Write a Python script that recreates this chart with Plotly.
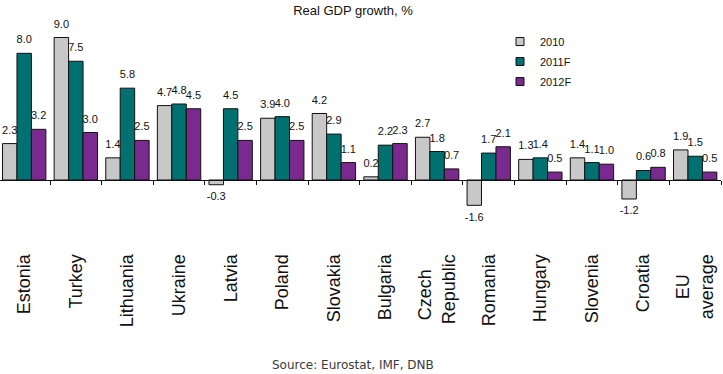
import plotly.graph_objects as go

categories = ["Estonia", "Turkey", "Lithuania", "Ukraine", "Latvia", "Poland", "Slovakia",
              "Bulgaria", "Czech Republic", "Romania", "Hungary", "Slovenia", "Croatia",
              "EU average"]
tick_labels = ["Estonia", "Turkey", "Lithuania", "Ukraine", "Latvia", "Poland", "Slovakia",
               "Bulgaria", "Czech\u00a0\u00a0\u00a0<br>Republic", "Romania", "Hungary", "Slovenia",
               "Croatia", "EU\u00a0\u00a0\u00a0\u00a0<br>average"]
series_names = ["2010", "2011F", "2012F"]
values_2010 = [2.3, 9.0, 1.4, 4.7, -0.3, 3.9, 4.2, 0.2, 2.7, -1.6, 1.3, 1.4, -1.2, 1.9]
values_2011 = [8.0, 7.5, 5.8, 4.8, 4.5, 4.0, 2.9, 2.2, 1.8, 1.7, 1.4, 1.1, 0.6, 1.5]
values_2012 = [3.2, 3.0, 2.5, 4.5, 2.5, 2.5, 1.1, 2.3, 0.7, 2.1, 0.5, 1.0, 0.8, 0.5]
colors = ["#C8C8C8", "#007070", "#7A2A8E"]

W, H = 723, 374
ML, MR, MT, MB = 0, 2, 22, 150
Y_RANGE = [-2.78, 9.98]
BARGAP = 0.16
FONT = "Liberation Sans, Arial, sans-serif"

fig = go.Figure()
all_series = [values_2010, values_2011, values_2012]
for name, vals, col in zip(series_names, all_series, colors):
    fig.add_trace(go.Bar(
        x=categories, y=vals, name=name, marker=dict(color=col, line=dict(color="#111111", width=1)),
        showlegend=False, hoverinfo="skip",
    ))
for name, vals, col in zip(series_names, all_series, colors):
    fig.add_trace(go.Scatter(
        x=categories, y=vals, mode="markers+text",
        text=[f"{v:.1f}" for v in vals],
        textposition=["top center" if v >= 0 else "bottom center" for v in vals],
        textfont=dict(family=FONT, size=11, color="#111111"),
        marker=dict(size=10, color="rgba(0,0,0,0)"),
        showlegend=False, hoverinfo="skip", cliponaxis=False,
    ))
# legend entries
for name, col in zip(series_names, colors):
    fig.add_trace(go.Scatter(
        x=[None], y=[None], mode="markers", name=name, xaxis="x2", yaxis="y2",
        legendgroup=name,
        marker=dict(symbol="square", size=8, color=col, line=dict(color="#111111", width=1)),
    ))

zero_pos = (0 - Y_RANGE[0]) / (Y_RANGE[1] - Y_RANGE[0])
plot_h = H - MT - MB
plot_w = W - ML - MR

fig.update_layout(
    width=W, height=H,
    margin=dict(l=ML, r=MR, t=MT, b=MB, pad=0),
    paper_bgcolor="white", plot_bgcolor="white",
    barmode="group", bargap=BARGAP, bargroupgap=0,
    scattermode="group", scattergap=BARGAP,
    title=dict(text="Real GDP growth, %", font=dict(family=FONT, size=13, color="#111111"),
               x=353 / W, xref="container", xanchor="center",
               y=1 - 10 / H, yref="container", yanchor="middle"),
    xaxis=dict(
        type="category", range=[-0.5 + 1.6 / (plot_w / 14), 13.5],
        tickvals=categories, ticktext=tick_labels,
        anchor="free", position=zero_pos,
        showline=True, linecolor="#111111", linewidth=1,
        ticks="outside", ticklen=4, tickcolor="#111111", tickson="boundaries",
        tickangle=-90, tickfont=dict(family=FONT, size=18, color="#111111"),
        ticklabelstandoff=66, showgrid=False, zeroline=False,
    ),
    yaxis=dict(range=Y_RANGE, visible=False, showgrid=False, zeroline=False),
    xaxis2=dict(overlaying="x", visible=False),
    yaxis2=dict(overlaying="y", visible=False),
    legend=dict(
        x=500 / plot_w, xanchor="left", y=(H - MB - 27) / plot_h, yanchor="top",
        font=dict(family=FONT, size=11, color="#111111"),
        bgcolor="rgba(0,0,0,0)", borderwidth=0, tracegroupgap=1,
    ),
    annotations=[dict(
        text="Source: Eurostat, IMF, DNB", xref="paper", yref="paper",
        x=353 / plot_w, y=-(365 - (H - MB)) / plot_h, xanchor="center", yanchor="middle",
        showarrow=False, font=dict(family="DejaVu Sans, sans-serif", size=12, color="#3a3a3a"),
    )],
)

fig.write_html("out.html", config={"displayModeBar": False},
               post_script="document.body.style.margin='0';")
